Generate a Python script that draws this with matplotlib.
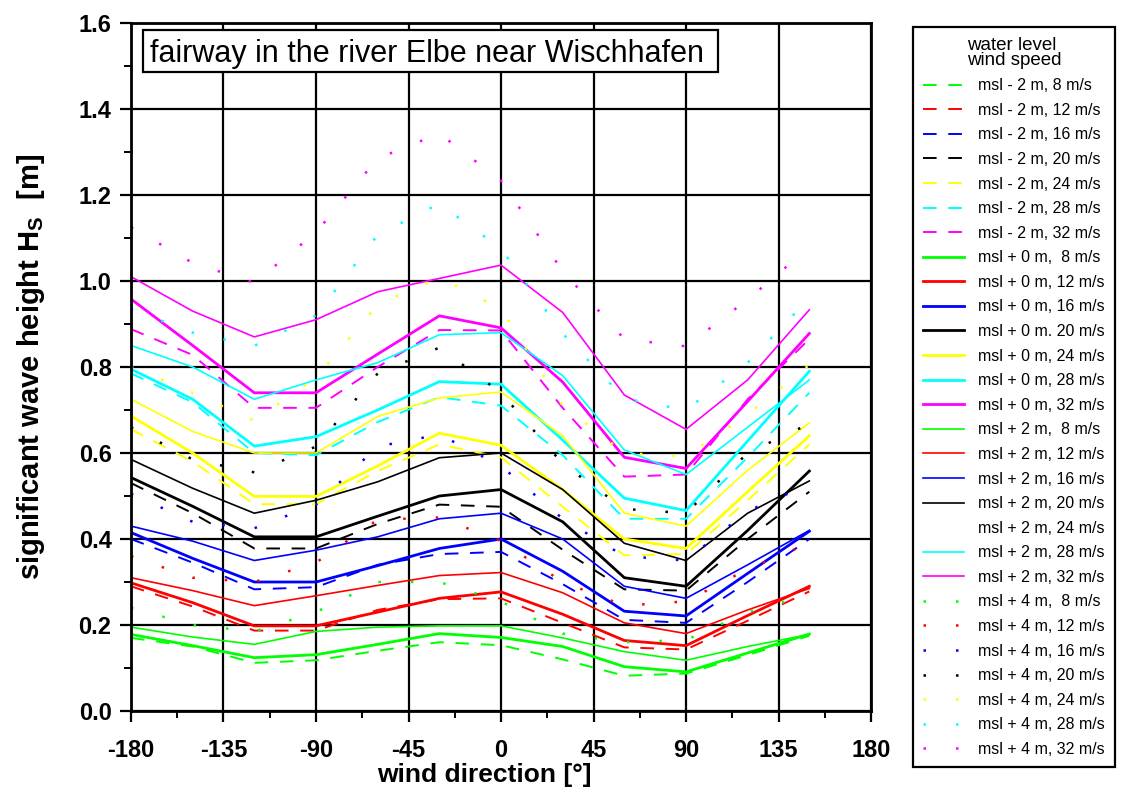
import numpy as np
import matplotlib
matplotlib.use("Agg")
import matplotlib.pyplot as plt
from matplotlib.lines import Line2D
from matplotlib.patches import Rectangle
from matplotlib.ticker import MultipleLocator

# wind directions of the computed sectors [deg]
wind_dir = [-180, -150, -120, -90, -60, -30, 0, 30, 60, 90, 120, 150]
wind_speeds = [8, 12, 16, 20, 24, 28, 32]
colors = ['#00ff00', '#ff0000', '#0000ff', '#000000', '#ffff00', '#00ffff', '#ff00ff']

# significant wave height Hs [m], water level msl - 2 m
m2_08 = [0.17, 0.15, 0.112, 0.118, 0.14, 0.16, 0.153, 0.12, 0.082, 0.087, 0.13, 0.175]
m2_12 = [0.29, 0.243, 0.187, 0.187, 0.235, 0.26, 0.262, 0.205, 0.148, 0.143, 0.21, 0.278]
m2_16 = [0.40, 0.345, 0.283, 0.288, 0.34, 0.365, 0.37, 0.295, 0.212, 0.205, 0.30, 0.40]
m2_20 = [0.53, 0.46, 0.378, 0.378, 0.435, 0.48, 0.475, 0.375, 0.283, 0.28, 0.40, 0.51]
m2_24 = [0.655, 0.58, 0.481, 0.481, 0.558, 0.62, 0.59, 0.475, 0.362, 0.365, 0.49, 0.62]
m2_28 = [0.785, 0.718, 0.60, 0.595, 0.672, 0.73, 0.71, 0.595, 0.447, 0.447, 0.59, 0.74]
m2_32 = [0.888, 0.828, 0.705, 0.705, 0.80, 0.886, 0.885, 0.705, 0.545, 0.55, 0.725, 0.865]

# msl + 0 m
p0_08 = [0.178, 0.152, 0.124, 0.131, 0.155, 0.18, 0.171, 0.15, 0.103, 0.091, 0.135, 0.179]
p0_12 = [0.298, 0.252, 0.198, 0.198, 0.23, 0.262, 0.277, 0.225, 0.164, 0.152, 0.222, 0.29]
p0_16 = [0.415, 0.355, 0.30, 0.30, 0.338, 0.378, 0.40, 0.325, 0.232, 0.221, 0.32, 0.418]
p0_20 = [0.543, 0.476, 0.405, 0.405, 0.453, 0.50, 0.515, 0.44, 0.31, 0.29, 0.42, 0.558]
p0_24 = [0.686, 0.60, 0.499, 0.499, 0.57, 0.646, 0.618, 0.515, 0.40, 0.378, 0.51, 0.64]
p0_28 = [0.795, 0.725, 0.616, 0.638, 0.70, 0.766, 0.76, 0.63, 0.495, 0.466, 0.628, 0.79]
p0_32 = [0.958, 0.85, 0.74, 0.74, 0.83, 0.919, 0.891, 0.765, 0.59, 0.564, 0.72, 0.878]

# msl + 2 m
p2_08 = [0.195, 0.172, 0.155, 0.185, 0.195, 0.198, 0.198, 0.17, 0.138, 0.118, 0.15, 0.178]
p2_12 = [0.31, 0.28, 0.245, 0.268, 0.292, 0.315, 0.322, 0.275, 0.205, 0.18, 0.235, 0.285]
p2_16 = [0.43, 0.395, 0.35, 0.374, 0.405, 0.447, 0.46, 0.40, 0.29, 0.262, 0.34, 0.42]
p2_20 = [0.585, 0.518, 0.46, 0.49, 0.533, 0.589, 0.60, 0.515, 0.39, 0.35, 0.46, 0.535]
p2_24 = [0.725, 0.65, 0.60, 0.60, 0.685, 0.728, 0.742, 0.64, 0.46, 0.43, 0.56, 0.67]
p2_28 = [0.85, 0.80, 0.725, 0.77, 0.81, 0.875, 0.88, 0.78, 0.607, 0.55, 0.66, 0.77]
p2_32 = [1.01, 0.93, 0.87, 0.91, 0.975, 1.006, 1.037, 0.927, 0.735, 0.655, 0.77, 0.933]

# msl + 4 m
p4_08 = [0.24, 0.20, 0.185, 0.23, 0.30, 0.30, 0.255, 0.18, 0.16, 0.165, 0.23, 0.27]
p4_12 = [0.36, 0.31, 0.30, 0.345, 0.445, 0.45, 0.395, 0.30, 0.245, 0.255, 0.33, 0.39]
p4_16 = [0.505, 0.44, 0.425, 0.48, 0.615, 0.643, 0.57, 0.447, 0.36, 0.35, 0.465, 0.527]
p4_20 = [0.66, 0.585, 0.555, 0.615, 0.785, 0.845, 0.74, 0.575, 0.47, 0.46, 0.60, 0.668]
p4_24 = [0.80, 0.74, 0.675, 0.775, 0.945, 1.008, 0.935, 0.71, 0.60, 0.592, 0.69, 0.805]
p4_28 = [0.935, 0.88, 0.849, 0.92, 1.107, 1.18, 1.075, 0.878, 0.727, 0.70, 0.81, 0.96]
p4_32 = [1.125, 1.042, 0.996, 1.113, 1.285, 1.343, 1.233, 1.023, 0.865, 0.848, 0.957, 1.078]

levels = [
    ('-', '2', [m2_08, m2_12, m2_16, m2_20, m2_24, m2_28, m2_32], dict(ls=(0, (7, 6)), lw=1.4)),
    ('+', '0', [p0_08, p0_12, p0_16, p0_20, p0_24, p0_28, p0_32], dict(ls='-', lw=2.0)),
    ('+', '2', [p2_08, p2_12, p2_16, p2_20, p2_24, p2_28, p2_32], dict(ls='-', lw=1.2)),
    ('+', '4', [p4_08, p4_12, p4_16, p4_20, p4_24, p4_28, p4_32], dict(ls=(0, (1, 12)), lw=1.8)),
]

font_bold = ['Liberation Sans Narrow', 'Liberation Sans', 'DejaVu Sans']
plt.rcParams['font.family'] = ['Liberation Sans', 'DejaVu Sans']

fig = plt.figure(figsize=(11.24, 7.91), dpi=100)
ax = fig.add_axes([131 / 1124, 1 - 711 / 791, 740 / 1124, 688 / 791])

handles, labels = [], []
for sign, lev, series, st in levels:
    for ws, col, hs in zip(wind_speeds, colors, series):
        ln, = ax.plot(wind_dir, hs, color=col, linestyle=st['ls'], lw=st['lw'])
        sep = ',  ' if ws == 8 and sign == '+' else ', '
        lab = 'msl %s %s m%s%d m/s' % (sign, lev, sep, ws)
        if sign == '+' and lev == '0' and ws == 20:
            lab = 'msl + 0 m. 20 m/s'
        if sign == '+' and lev == '2' and ws == 24:
            ln = Line2D([], [], color='none')
        handles.append(ln)
        labels.append(lab)

ax.set_xlim(-180, 180)
ax.set_ylim(0, 1.6)
ax.set_xticks(np.arange(-180, 181, 45))
ax.set_xticklabels(['-180', '-135', '-90', '-45', '0', '45', '90', '135', '180'])
ax.set_yticks(np.arange(0, 1.61, 0.2))
ax.set_yticklabels(['%.1f' % v for v in np.arange(0, 1.61, 0.2)])
ax.xaxis.set_minor_locator(MultipleLocator(22.5))
ax.yaxis.set_minor_locator(MultipleLocator(0.1))
ax.tick_params(which='major', direction='out', length=8, width=1.6)
ax.tick_params(axis='x', which='major', pad=12)
ax.tick_params(axis='y', which='major', pad=6)
ax.tick_params(which='minor', direction='out', length=5, width=1.4)
for lab in ax.get_xticklabels() + ax.get_yticklabels():
    lab.set_fontfamily(font_bold)
    lab.set_fontweight('bold')
    lab.set_fontsize(17)
ax.grid(True, which='major', color='black', lw=1.6)
for sp in ax.spines.values():
    sp.set_linewidth(2)

ax.set_xlabel('wind direction [°]', fontsize=19, fontweight='bold', family=font_bold, labelpad=0)
ax.xaxis.set_label_coords(0.478, -0.075)
ax.set_ylabel('significant wave height H$_\\mathregular{S}$  [m]', fontsize=21, fontweight='bold',
              family=font_bold)
ax.yaxis.set_label_coords(-0.113, 0.5)

# caption box inside the plot area
ax.add_patch(Rectangle((12 / 740, 1 - 49 / 688), 575 / 740, 42 / 688, transform=ax.transAxes,
                       fc='white', ec='black', lw=1.6, zorder=5))
ax.text(19 / 740, 1 - 38.7 / 688, 'fairway in the river Elbe near Wischhafen', transform=ax.transAxes,
        fontsize=22, va='baseline', ha='left', zorder=6)

leg = fig.legend(handles, labels, loc='upper left', bbox_to_anchor=(913 / 1124, 1 - 27 / 791),
                 fontsize=11.5, title='water level\nwind speed', title_fontsize=13.5,
                 frameon=True, fancybox=False, edgecolor='black', framealpha=1,
                 handlelength=2.6, handletextpad=0.9, labelspacing=0.6, borderpad=0.6,
                 borderaxespad=0)
leg.get_frame().set_linewidth(1.6)
leg.get_title().set_linespacing(0.85)

fig.savefig('out.png', dpi=100)
